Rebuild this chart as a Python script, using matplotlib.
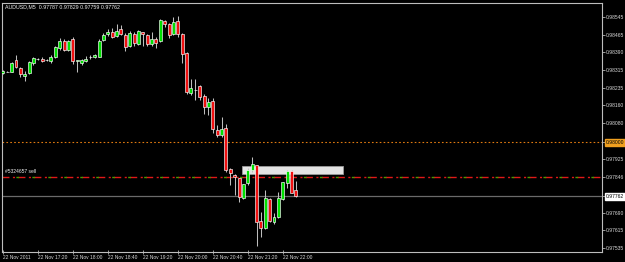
import matplotlib.pyplot as plt
from matplotlib.patches import Rectangle

# AUDUSD M5 bars, 22 Nov 2011 16:40 - 22:15
opens = [0.98300, 0.98305, 0.98305, 0.98357, 0.98322, 0.98287, 0.98300, 0.98344, 0.98361, 0.98361,
         0.98355, 0.98353, 0.98370, 0.98410, 0.98440, 0.98401, 0.98449, 0.98353, 0.98344, 0.98353,
         0.98368, 0.98370, 0.98370, 0.98444, 0.98471, 0.98479, 0.98462, 0.98493, 0.98466, 0.98418,
         0.98471, 0.98427, 0.98479, 0.98466, 0.98427, 0.98449, 0.98440, 0.98528, 0.98514, 0.98471,
         0.98528, 0.98471, 0.98388, 0.98213, 0.98228, 0.98243, 0.98200, 0.98152, 0.98178, 0.98051,
         0.98029, 0.98060, 0.97881, 0.97855, 0.97841, 0.97754, 0.97820, 0.97876, 0.97898, 0.97654,
         0.97623, 0.97750, 0.97649, 0.97671, 0.97750, 0.97820, 0.97872, 0.97787]
highs = [0.98313, 0.98309, 0.98348, 0.98379, 0.98326, 0.98309, 0.98353, 0.98370, 0.98366, 0.98370,
         0.98361, 0.98379, 0.98418, 0.98453, 0.98449, 0.98444, 0.98458, 0.98357, 0.98361, 0.98375,
         0.98379, 0.98383, 0.98449, 0.98475, 0.98493, 0.98497, 0.98514, 0.98510, 0.98475, 0.98484,
         0.98479, 0.98488, 0.98481, 0.98471, 0.98479, 0.98458, 0.98534, 0.98530, 0.98519, 0.98545,
         0.98549, 0.98475, 0.98392, 0.98274, 0.98274, 0.98248, 0.98209, 0.98191, 0.98191, 0.98073,
         0.98108, 0.98077, 0.97883, 0.97859, 0.97843, 0.97817, 0.97885, 0.97933, 0.97900, 0.97693,
         0.97789, 0.97754, 0.97689, 0.97780, 0.97826, 0.97876, 0.97876, 0.97829]
lows = [0.98296, 0.98303, 0.98303, 0.98322, 0.98283, 0.98265, 0.98296, 0.98335, 0.98357, 0.98348,
        0.98353, 0.98344, 0.98366, 0.98401, 0.98396, 0.98396, 0.98340, 0.98305, 0.98335, 0.98348,
        0.98361, 0.98366, 0.98368, 0.98440, 0.98462, 0.98453, 0.98458, 0.98466, 0.98396, 0.98414,
        0.98418, 0.98423, 0.98418, 0.98418, 0.98418, 0.98410, 0.98436, 0.98501, 0.98453, 0.98466,
        0.98458, 0.98344, 0.98209, 0.98204, 0.98182, 0.98182, 0.98121, 0.98117, 0.98038, 0.98021,
        0.98021, 0.97868, 0.97811, 0.97767, 0.97737, 0.97750, 0.97811, 0.97868, 0.97544, 0.97584,
        0.97620, 0.97649, 0.97641, 0.97667, 0.97745, 0.97798, 0.97774, 0.97759]
closes = [0.98309, 0.98306, 0.98344, 0.98326, 0.98296, 0.98296, 0.98348, 0.98366, 0.98362, 0.98353,
          0.98358, 0.98370, 0.98414, 0.98440, 0.98401, 0.98440, 0.98353, 0.98355, 0.98355, 0.98361,
          0.98370, 0.98379, 0.98440, 0.98466, 0.98479, 0.98458, 0.98484, 0.98471, 0.98414, 0.98475,
          0.98431, 0.98484, 0.98471, 0.98427, 0.98449, 0.98431, 0.98532, 0.98514, 0.98466, 0.98523,
          0.98471, 0.98383, 0.98217, 0.98235, 0.98226, 0.98195, 0.98152, 0.98174, 0.98056, 0.98029,
          0.98056, 0.97876, 0.97863, 0.97846, 0.97758, 0.97815, 0.97876, 0.97903, 0.97649, 0.97623,
          0.97754, 0.97654, 0.97671, 0.97754, 0.97824, 0.97872, 0.97776, 0.97762]

price_ticks = [0.98545, 0.98465, 0.98390, 0.98315, 0.98235, 0.98160, 0.98080, 0.98000,
               0.97925, 0.97846, 0.97762, 0.97690, 0.97615, 0.97535]
time_ticks = [0, 8, 16, 24, 32, 40, 48, 56, 64]
time_labels = ['22 Nov 2011', '22 Nov 17:20', '22 Nov 18:00', '22 Nov 18:40', '22 Nov 19:20',
               '22 Nov 20:00', '22 Nov 20:40', '22 Nov 21:20', '22 Nov 22:00']

alert_level = 0.98000
sell_price = 0.97846
bid = 0.97762
box_x = (54.7, 77.8)
box_y = (0.97859, 0.97894)

plt.rcParams['font.family'] = ['Liberation Sans', 'DejaVu Sans']

fig = plt.figure(figsize=(6.25, 2.62), dpi=100, facecolor='black')
ax = fig.add_axes([2 / 625, 1 - 252 / 262, 600 / 625, 249 / 262])
ax.set_facecolor('black')

# white object rectangle behind the candles
ax.add_patch(Rectangle((box_x[0], box_y[0]), box_x[1] - box_x[0], box_y[1] - box_y[0],
                       facecolor='#e4e4e4', edgecolor='#9a9a9a', lw=0.6, zorder=1))

# horizontal lines
ax.axhline(alert_level, color='#e07a10', lw=0.8, ls=(0, (1.5, 2)), zorder=2)
ax.axhline(sell_price, color='#e01818', lw=1.0, ls=(0, (5, 2.5, 1.5, 2.5)), zorder=2)
ax.axhline(sell_price, color='#4a9a00', lw=1.0, ls=(1.5, (2, 9.5)), zorder=2)
ax.axhline(bid, color='#6a6a6a', lw=0.9, zorder=2)

# candles
for i, (o, h, l, c) in enumerate(zip(opens, highs, lows, closes)):
    ax.vlines(i, l, h, color='#bdbdbd', lw=0.75, zorder=3)
    face = '#00e000' if c >= o else '#f01010'
    body = max(abs(c - o), 0.000012)
    ax.add_patch(Rectangle((i - 0.34, min(o, c)), 0.68, body,
                           facecolor=face, edgecolor='white', lw=0.45, zorder=4))

ax.set_xlim(-0.2, 137.0)
ax.set_ylim(0.97518, 0.98606)

for s in ax.spines.values():
    s.set_color('#bdbdbd')
    s.set_linewidth(0.8)

ax.yaxis.tick_right()
ax.set_yticks(price_ticks)
ax.set_yticklabels([f'{p:.5f}' for p in price_ticks])
ax.tick_params(axis='y', colors='#d8d8d8', labelsize=3.6, length=2, width=0.5, pad=1)
ax.set_xticks(time_ticks)
ax.set_xticklabels(time_labels, ha='left')
ax.tick_params(axis='x', colors='#d8d8d8', labelsize=3.5, length=3, width=0.5,
               direction='inout', pad=1)

for lab, p in zip(ax.get_yticklabels(), price_ticks):
    if p == alert_level:
        lab.set_color('black')
        lab.set_bbox(dict(facecolor='#f0a020', edgecolor='#f0a020', pad=0.6))
    elif p == bid:
        lab.set_color('black')
        lab.set_bbox(dict(facecolor='white', edgecolor='white', pad=0.6))

fig.text(5 / 625, 1 - 7 / 262, 'AUDUSD,M5  0.97787 0.97829 0.97759 0.97762',
         color='#f0f0f0', fontsize=3.8, va='center', ha='left')
ax.text(0.6, 0.97870, '#5324657 sell', color='#f0f0f0', fontsize=3.6, va='center', ha='left')

fig.savefig('out.png', dpi=100, facecolor='black')
